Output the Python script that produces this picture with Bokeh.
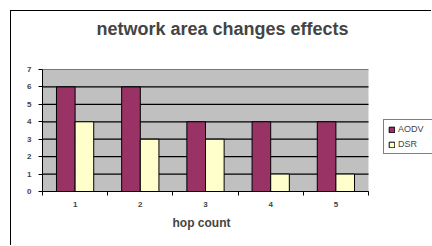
from bokeh.plotting import figure
from bokeh.models import ColumnDataSource, FixedTicker, Legend, LegendItem, Range1d, Title, BoxAnnotation
from bokeh.transform import dodge
from bokeh.embed import file_html
from bokeh.resources import INLINE

hops = [1, 2, 3, 4, 5]
hop_labels = ["1", "2", "3", "4", "5"]
aodv = [6, 6, 4, 4, 4]
dsr = [4, 3, 3, 1, 1]
y_ticks = [0, 1, 2, 3, 4, 5, 6, 7]

src = ColumnDataSource(dict(x=hops, aodv=aodv, dsr=dsr))

FONT = "Liberation Sans"

# plot area: categories occupy 326 px of a 390 px frame; the rest holds the legend
CAT_PX = 326 / len(hops)
FRAME_W = 390
x0 = hops[0] - 0.5
x1 = hops[-1] + 0.5
y0, y1 = y_ticks[0], y_ticks[-1]

p = figure(width=421, height=235, output_backend="svg", toolbar_location=None,
           x_range=Range1d(x0, x0 + FRAME_W / CAT_PX), y_range=Range1d(y0, y1),
           min_border_left=31, min_border_right=0, min_border_top=58, min_border_bottom=55)
# outer chart frame: only its left and top edges fall inside the picture
p.styles = {"margin-left": "10px", "margin-top": "10px",
            "border-left": "1px solid #000", "border-top": "1px solid #000"}

p.background_fill_color = "white"
p.border_fill_color = "white"
p.outline_line_color = None

p.title.text = "network area changes effects"
p.title.text_font = FONT
p.title.text_font_size = "18px"
p.title.text_font_style = "bold"
p.title.align = "left"
p.title.offset = 54

spacer = Title(text=" ", text_font_size="12px")
p.add_layout(spacer, "above")

# gray plotting area
p.add_layout(BoxAnnotation(left=x0, right=x1, bottom=y0, top=y1, fill_color="#C0C0C0",
                           fill_alpha=1, line_color=None, level="image"))

# horizontal grid lines limited to the plotting area
gsrc = ColumnDataSource(dict(y=y_ticks, xs=[x0] * len(y_ticks), xe=[x1] * len(y_ticks)))
g = p.segment(x0="xs", x1="xe", y0="y", y1="y", source=gsrc, line_color="black", line_width=1.2)
g.level = "underlay"

bw = 1 / 3.5
r1 = p.vbar(x=dodge("x", -bw / 2, range=p.x_range), top="aodv", width=bw, source=src,
            fill_color="#993366", line_color="black", line_width=1)
r2 = p.vbar(x=dodge("x", bw / 2, range=p.x_range), top="dsr", width=bw, source=src,
            fill_color="#FFFFCC", line_color="black", line_width=1)

p.xgrid.grid_line_color = None
p.ygrid.grid_line_color = None

# y axis
p.yaxis.ticker = FixedTicker(ticks=y_ticks)
p.yaxis.axis_line_color = "black"
p.yaxis.major_tick_in = 0
p.yaxis.major_tick_out = 4
p.yaxis.minor_tick_line_color = None
p.yaxis.major_label_text_font = FONT
p.yaxis.major_label_text_font_size = "8px"
p.yaxis.major_label_text_font_style = "bold"
p.yaxis.major_label_standoff = 7

# x axis
p.xaxis.ticker = FixedTicker(ticks=hops, minor_ticks=[h - 0.5 for h in hops] + [x1])
p.xaxis.bounds = (x0, x1)
p.xaxis.major_label_overrides = {h: l for h, l in zip(hops, hop_labels)}
p.xaxis.axis_line_color = "black"
p.xaxis.major_tick_in = 0
p.xaxis.major_tick_out = 0
p.xaxis.minor_tick_in = 0
p.xaxis.minor_tick_out = 4
p.xaxis.minor_tick_line_color = "black"
p.xaxis.major_label_text_font = FONT
p.xaxis.major_label_text_font_size = "8px"
p.xaxis.major_label_text_font_style = "bold"
p.xaxis.major_label_standoff = 6

# axis title, centred under the category area (not under the whole frame)
xlabel = Title(text="hop count", align="left", offset=130, text_font=FONT,
               text_font_size="12px", text_font_style="bold", standoff=8)
p.add_layout(xlabel, "below")

legend = Legend(items=[LegendItem(label="AODV", renderers=[r1]),
                       LegendItem(label="DSR", renderers=[r2])],
                location=(341, 37))
legend.border_line_color = "black"
legend.border_line_width = 1
legend.background_fill_color = "white"
legend.label_text_font = FONT
legend.label_text_font_size = "9px"
legend.glyph_width = 7
legend.glyph_height = 7
legend.label_height = 9
legend.label_width = 40
legend.label_standoff = 3
legend.spacing = 5
legend.padding = 4
legend.margin = 0
p.add_layout(legend, "center")

open("out.html", "w").write(file_html(p, INLINE))
